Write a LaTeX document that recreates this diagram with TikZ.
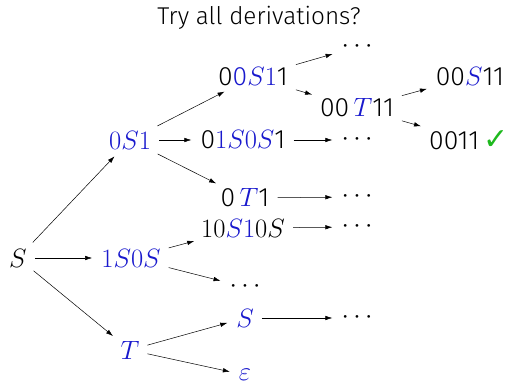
\RequirePackage{fix-cm}
\documentclass[tikz,border=0pt]{standalone}
\usepackage{fontspec}
\setmainfont{Fira Sans}[UprightFont=* Light]
\newfontfamily\symfont{DejaVu Sans}
\usetikzlibrary{arrows.meta}
\definecolor{myblue}{RGB}{25,25,205}
\definecolor{mygreen}{RGB}{30,185,30}
\newcommand{\bl}[1]{\textcolor{myblue}{#1}}
\begin{document}
\begin{tikzpicture}[x=1pt,y=1pt,
  every node/.style={font=\fontsize{26.5}{30}\selectfont, inner sep=2pt},
  arr/.style={-{Latex[length=7pt,width=4.5pt]}, line width=0.5pt, shorten <=6pt, shorten >=7pt}]
\useasboundingbox (0,0) rectangle (508,385);
\node[font=\fontsize{24.3}{28}\selectfont, inner sep=0pt] (title) at (259,367) {Try all derivations?};
\node (S) at (18,127) {$S$};
\node (a) at (130,245) {\bl{$0S1$}};
\node (b) at (131,127) {\bl{$1S0S$}};
\node (c) at (130,35) {\bl{$T$}};
\node (d) at (253,308) {0\bl{0$S1$}1};
\node (e) at (243,245) {0\bl{$1S0S$}1};
\node (f) at (245,187) {0\,\bl{$T$}1};
\node (g) at (243,157) {$10\bl{S1}0S$};
\node (h) at (245,98) {$\cdots$};
\node (i) at (245,67) {\bl{$S$}};
\node (j) at (245,10) {\bl{$\varepsilon$}};
\node (k) at (357,277) {00\,\bl{$T$}11};
\node (l) at (470,308) {00\bl{$S$}11};
\node (m) at (469,245) {0011\,\textcolor{mygreen}{\symfont\fontsize{30}{30}\selectfont ✓}};
\node (d1) at (357,338) {$\cdots$};
\node (d2) at (357,245) {$\cdots$};
\node (d3) at (357,188) {$\cdots$};
\node (d4) at (357,158) {$\cdots$};
\node (d5) at (357,67) {$\cdots$};
\draw[arr] (S) -- (a);
\draw[arr] (S) -- (b);
\draw[arr] (S) -- (c);
\draw[arr] (a) -- (d);
\draw[arr] (a) -- (e);
\draw[arr] (a) -- (f);
\draw[arr] (d) -- (d1);
\draw[arr] (d) -- (k);
\draw[arr] (k) -- (l);
\draw[arr] (k) -- (m);
\draw[arr] (e) -- (d2);
\draw[arr] (f) -- (d3);
\draw[arr] (g) -- (d4);
\draw[arr] (b) -- (g);
\draw[arr] (b) -- (h);
\draw[arr] (c) -- (i);
\draw[arr] (c) -- (j);
\draw[arr] (i) -- (d5);
\end{tikzpicture}
\end{document}
